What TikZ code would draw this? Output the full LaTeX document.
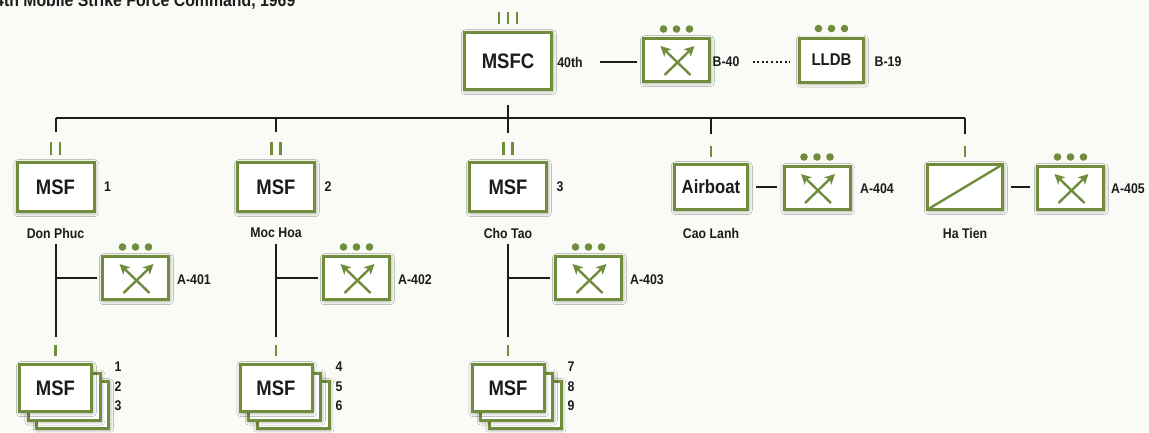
\documentclass[tikz,border=0pt]{standalone}
\usepackage{fontspec}
\setmainfont{Liberation Sans}[FakeStretch=0.88]
\usetikzlibrary{shadows.blur,arrows.meta,calc}
\definecolor{bg}{HTML}{FAFBF6}
\definecolor{ogreen}{HTML}{6F8D3C}
\definecolor{ink}{HTML}{1C1C1C}
\tikzset{
  fs/.style={font=\fontsize{#1}{#1}\selectfont\bfseries},
  softshadow/.style={blur shadow={shadow xshift=0.8pt, shadow yshift=-1.2pt, shadow blur radius=4pt, shadow opacity=45}},
  unitbox/.style={draw=ogreen, line width=3pt, fill=white, minimum width=77pt, minimum height=49pt,
    inner sep=0pt, softshadow, text=ink, fs=21},
  reconbox/.style={unitbox, minimum width=66pt, minimum height=43pt,
    path picture={
      \draw[ogreen, line width=2.4pt, -{Stealth[length=10pt,width=10pt,inset=2.5pt]}]
        ([shift={(-12pt,-15pt)}]path picture bounding box.center) -- ([shift={(18pt,14pt)}]path picture bounding box.center);
      \draw[ogreen, line width=2.4pt, -{Stealth[length=10pt,width=10pt,inset=2.5pt]}]
        ([shift={(14pt,-15pt)}]path picture bounding box.center) -- ([shift={(-16pt,14pt)}]path picture bounding box.center);
    }},
  stackbox/.style={unitbox, minimum width=72pt, minimum height=47pt},
  lbl/.style={inner sep=0pt, text=ink, fs=14},
  conn/.style={draw=ink, line width=2pt},
  tick/.style={draw=ogreen, line width=2.6pt},
}
\begin{document}
\begin{tikzpicture}[x=1pt,y=-1pt]
\useasboundingbox (0,0) rectangle (1149,432);
\fill[bg] (0,0) rectangle (1149,432);
\clip (0,0) rectangle (1149,432);

% title (cut off at top, as in the reference)
\node[anchor=base west, inner sep=0pt, text=ink, fs=18] (title) at (-5,6) {4th Mobile Strike Force Command, 1969};

% ---------- row 0 ----------
\node[unitbox, minimum width=87pt, minimum height=57pt] (msfc) at (508,61) {MSFC};
\node[lbl] (t40) at (570,62) {40th};
\node[reconbox] (b40) at (676.5,60) {};
\node[lbl] (lb40) at (726,62) {B-40};
\node[unitbox, minimum width=64pt, minimum height=44pt, fs=17] (lldb) at (831.5,60) {LLDB};
\node[lbl] (lb19) at (888,62) {B-19};

\draw[conn, shorten <=17pt, shorten >=5pt] (t40.east) -- (b40.west |- t40.east);
\draw[conn, dash pattern=on 2pt off 2.6pt, shorten <=13pt, shorten >=8pt] (lb40.east) -- (lldb.west |- lb40.east);

\foreach \dx in {-9,0,9} \draw[tick] ([xshift=\dx pt, yshift=7pt]msfc.north) -- ([xshift=\dx pt, yshift=19pt]msfc.north);

% ---------- row 1 ----------
\node[unitbox] (msf1) at (55.5,187) {MSF};
\node[unitbox] (msf2) at (276,187) {MSF};
\node[unitbox] (msf3) at (508,187) {MSF};
\node[unitbox, minimum width=73pt, minimum height=45pt, fs=19] (air) at (711,187) {Airboat};
\node[unitbox, minimum width=75pt, minimum height=45pt,
  path picture={\draw[ogreen, line width=2.4pt] (path picture bounding box.south west) -- (path picture bounding box.north east);}] (ht) at (965,187) {};
\node[reconbox] (r404) at (817,188) {};
\node[reconbox] (r405) at (1070.5,188) {};

\node[lbl] (n1) at (107.5,187) {1};
\node[lbl] (n2) at (328,187) {2};
\node[lbl] (n3) at (560,187) {3};
\node[lbl] (dp) at (55.5,233) {Don Phuc};
\node[lbl] (mh) at (276,233) {Moc Hoa};
\node[lbl] (ct) at (508,233) {Cho Tao};
\node[lbl] (cl) at (711,233) {Cao Lanh};
\node[lbl] (htl) at (965,233) {Ha Tien};
\node[lbl] (la404) at (877,189) {A-404};
\node[lbl] (la405) at (1128,189) {A-405};

\draw[conn, shorten <=7pt, shorten >=6pt] (air.east) -- (r404.west |- air.east);
\draw[conn, shorten <=7pt, shorten >=6pt] (ht.east) -- (r405.west |- ht.east);

% bus
\coordinate (busL) at (55.5,118);
\coordinate (busR) at (965,118);
\draw[conn, line width=2.2pt] (busL) -- (busR);
\draw[conn] ([yshift=-14pt]msfc.south) -- ([yshift=28pt]msf3.north);
\foreach \u in {msf1,msf2,air,ht} \draw[conn] (\u.north |- busL) -- ([yshift=29pt]\u.north);
\foreach \u in {msf1,msf2,msf3} \foreach \dx in {-4.5,4.5}
  \draw[tick] ([xshift=\dx pt, yshift=6pt]\u.north) -- ([xshift=\dx pt, yshift=19pt]\u.north);
\foreach \u in {air,ht} \draw[tick] ([yshift=6pt]\u.north) -- ([yshift=17pt]\u.north);

% ---------- row 2 ----------
\node[reconbox] (r401) at (135.5,278) {};
\node[reconbox] (r402) at (356.5,278) {};
\node[reconbox] (r403) at (588.5,278) {};
\node[lbl] (la401) at (194,280) {A-401};
\node[lbl] (la402) at (415,280) {A-402};
\node[lbl] (la403) at (647,280) {A-403};

% ---------- row 3: stacks ----------
\foreach \c/\p in {55.5/s1, 276/s2, 508/s3} {
  \node[stackbox] (\p c) at (\c+17,405) {};
  \node[stackbox] (\p b) at (\c+8.5,396.5) {};
  \node[stackbox] (\p a) at (\c,388) {MSF};
}
\node[lbl] (k1) at (118,367) {1};
\node[lbl] (k2) at (118,387) {2};
\node[lbl] (k3) at (118,406) {3};
\node[lbl] (k4) at (339,367) {4};
\node[lbl] (k5) at (339,387) {5};
\node[lbl] (k6) at (339,406) {6};
\node[lbl] (k7) at (571,367) {7};
\node[lbl] (k8) at (571,387) {8};
\node[lbl] (k9) at (571,406) {9};

% trunks and branches
\foreach \l/\r/\s in {dp/r401/s1a, mh/r402/s2a, ct/r403/s3a} {
  \draw[conn] ([yshift=-6pt]\l.south) -- ([yshift=26pt]\s.north);
  \draw[conn, shorten >=4pt] (\r.west -| \l.south) -- (\r.west);
  \draw[tick] ([yshift=7pt]\s.north) -- ([yshift=18pt]\s.north);
}

% command dots above recon / LLDB boxes
\foreach \n in {b40,lldb,r401,r402,r403,r404,r405}
  \foreach \dx in {-13,0,13}
    \fill[ogreen] ([xshift=\dx pt, yshift=8pt]\n.north) circle (3.8pt);
\end{tikzpicture}
\end{document}
